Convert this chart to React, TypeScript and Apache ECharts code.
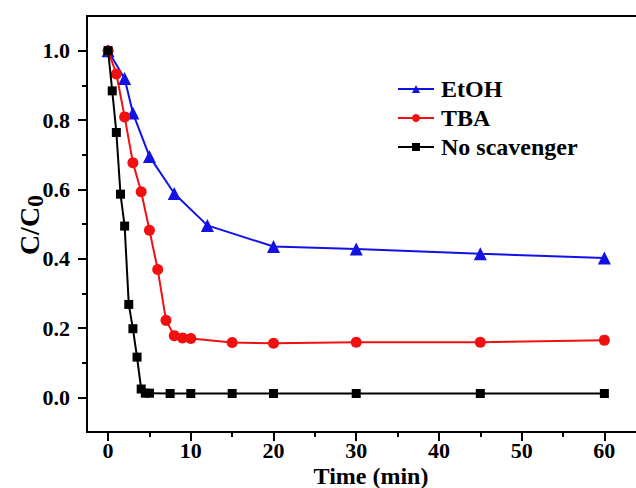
import React, { useEffect, useRef } from "react";
import * as echarts from "echarts";

const etohTime = [0, 2, 3, 5, 8, 12, 20, 30, 45, 60];
const etohValues = [1.0, 0.92, 0.82, 0.695, 0.588, 0.496, 0.435, 0.428, 0.414, 0.402];

const tbaTime = [0, 1, 2, 3, 4, 5, 6, 7, 8, 9, 10, 15, 20, 30, 45, 60];
const tbaValues = [1.0, 0.933, 0.809, 0.677, 0.593, 0.482, 0.369, 0.222, 0.178, 0.171, 0.17, 0.158, 0.156, 0.159, 0.159, 0.165];

const noTime = [0, 0.5, 1, 1.5, 2, 2.5, 3, 3.5, 4, 4.5, 5, 7.5, 10, 15, 20, 30, 45, 60];
const noValues = [1.0, 0.884, 0.764, 0.586, 0.494, 0.268, 0.198, 0.116, 0.024, 0.012, 0.012, 0.011, 0.011, 0.011, 0.011, 0.011, 0.011, 0.011];

const xMajor = [0, 10, 20, 30, 40, 50, 60];
const xMinor = [5, 15, 25, 35, 45, 55, 65];
const yMajor = [0, 0.2, 0.4, 0.6, 0.8, 1.0];
const yMinor = [0.1, 0.3, 0.5, 0.7, 0.9];

const xTitle = "Time (min)";

const FONT = "'Liberation Serif', 'Times New Roman', serif";

const zip = (a: number[], b: number[]) => a.map((t, i) => [t, b[i]]);

export default function App() {
  const ref = useRef<HTMLDivElement>(null);
  useEffect(() => {
    if (!ref.current) return;
    const chart = echarts.init(ref.current, null, { renderer: "svg" });
    const labelStyle = { fontFamily: FONT, fontWeight: "bold" as const, fontSize: 22, color: "#000" };
    const XMIN = -2.55;
    const XMAX = 66;
    chart.setOption({
      animation: false,
      backgroundColor: "#fff",
      grid: {
        left: 87, top: 16, bottom: 56, right: 6,
        containLabel: false,
        outerBoundsMode: "none",
        show: true, borderColor: "#000", borderWidth: 2, backgroundColor: "transparent",
      },
      legend: {
        orient: "vertical",
        left: 392,
        top: 72,
        itemWidth: 36,
        itemHeight: 10,
        itemGap: 5,
        textStyle: { ...labelStyle, fontSize: 24, padding: [0, 0, 0, 2] },
        data: ["EtOH", "TBA", "No scavenger"],
      },
      graphic: [
        {
          type: "text",
          x: 371,
          y: 476,
          style: {
            text: xTitle,
            fontFamily: FONT,
            fontWeight: "bold",
            fontSize: 24,
            fill: "#000",
            align: "center",
            verticalAlign: "middle",
          },
        },
        {
          type: "text",
          x: 29,
          y: 225,
          rotation: Math.PI / 2,
          style: {
            text: "{a|C/C}{b|0}",
            align: "center",
            verticalAlign: "middle",
            rich: {
              a: { fontFamily: FONT, fontWeight: "bold", fontSize: 28, fill: "#000" },
              b: { fontFamily: FONT, fontWeight: "bold", fontSize: 24, fill: "#000", padding: [12, 0, 0, 0] },
            },
          },
        },
      ],
      xAxis: [
        {
          type: "value",
          min: XMIN,
          max: XMAX,
          axisLine: { show: true, onZero: false, lineStyle: { color: "#000", width: 2 } },
          axisTick: { show: true, customValues: xMajor, length: 9, lineStyle: { color: "#000", width: 2 } },
          axisLabel: { customValues: xMajor, ...labelStyle, margin: 7 },
          splitLine: { show: false },
        },
        {
          type: "value",
          position: "bottom",
          min: XMIN,
          max: XMAX,
          axisLine: { show: false, onZero: false },
          axisTick: { show: true, customValues: xMinor, length: 5, lineStyle: { color: "#000", width: 2 } },
          axisLabel: { show: false },
          splitLine: { show: false },
        },
      ],
      yAxis: [
        {
          type: "value",
          min: -0.1,
          max: 1.1,
          axisLine: { show: true, onZero: false, lineStyle: { color: "#000", width: 2 } },
          axisTick: { show: true, customValues: yMajor, length: 9, lineStyle: { color: "#000", width: 2 } },
          axisLabel: { customValues: yMajor, ...labelStyle, margin: 17, formatter: (v: number) => v.toFixed(1) },
          splitLine: { show: false },
        },
        {
          type: "value",
          position: "left",
          min: -0.1,
          max: 1.1,
          axisLine: { show: false, onZero: false },
          axisTick: { show: true, customValues: yMinor, length: 5, lineStyle: { color: "#000", width: 2 } },
          axisLabel: { show: false },
          splitLine: { show: false },
        },
      ],
      series: [
        {
          name: "EtOH",
          type: "line",
          data: zip(etohTime, etohValues),
          symbol: "triangle",
          symbolSize: 13,
          color: "#1212e6",
          lineStyle: { width: 2, color: "#1212e6" },
          itemStyle: { color: "#1212e6" },
          z: 3,
        },
        {
          name: "TBA",
          type: "line",
          data: zip(tbaTime, tbaValues),
          symbol: "circle",
          symbolSize: 11,
          color: "#f01010",
          lineStyle: { width: 2, color: "#f01010" },
          itemStyle: { color: "#f01010" },
          z: 4,
        },
        {
          name: "No scavenger",
          type: "line",
          data: zip(noTime, noValues),
          symbol: "rect",
          symbolSize: 9,
          color: "#000",
          lineStyle: { width: 2, color: "#000" },
          itemStyle: { color: "#000" },
          z: 5,
        },
      ],
    });
    return () => chart.dispose();
  }, []);
  return (
    <div style={{ position: "fixed", left: 0, top: 0, width: 636, height: 488, overflow: "hidden", background: "#fff" }}>
      <div ref={ref} style={{ width: 660, height: 488 }} />
    </div>
  );
}
